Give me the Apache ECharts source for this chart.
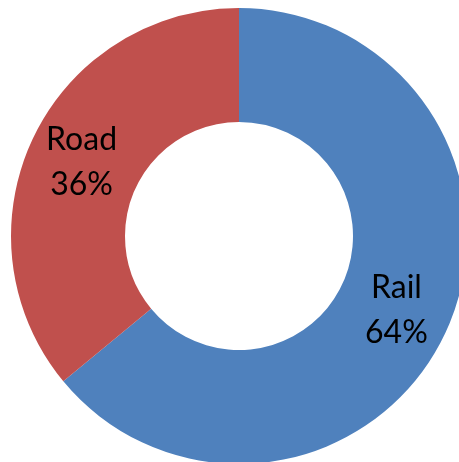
<!DOCTYPE html>
<html><head><meta charset="utf-8">
<script src="https://cdn.jsdelivr.net/npm/echarts@6/dist/echarts.min.js"></script>
<style>html,body{margin:0;padding:0;background:#fff}#c{width:459px;height:462px}</style>
</head><body><div id="c"></div>
<script>
const categories = ['Rail', 'Road'];
const values = [64, 36];
const colors = ['#4F81BD', '#C0504D'];

const chart = echarts.init(document.getElementById('c'), null, {renderer: 'canvas'});
chart.setOption({
  animation: false,
  series: [{
    type: 'pie',
    center: [239, 236],
    radius: [114, 228],
    startAngle: 90,
    clockwise: true,
    data: categories.map((c, i) => ({name: c, value: values[i], itemStyle: {color: colors[i]}})),
    label: {
      show: true,
      position: 'inside',
      formatter: p => p.name + '\n' + p.value + '%',
      color: '#000',
      fontFamily: 'Lato',
      fontSize: 32,
      lineHeight: 45
    },
    labelLine: {show: false},
    emphasis: {disabled: true}
  }]
});
</script></body></html>
